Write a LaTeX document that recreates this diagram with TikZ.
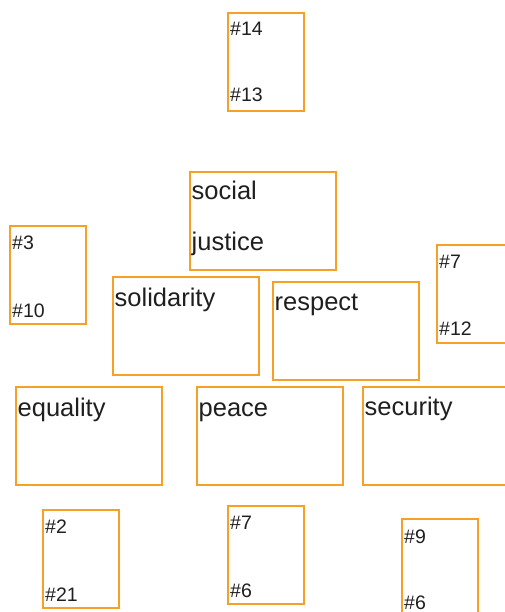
\documentclass[tikz,border=0pt]{standalone}
\usepackage{fontspec}
\setmainfont{Liberation Sans}
\definecolor{boxorange}{RGB}{247,160,38}
\begin{document}
\begin{tikzpicture}[
  x=1pt, y=1pt,
  cat/.style={
    draw=boxorange, line width=2.8pt,
    anchor=north west, inner sep=0pt, outer sep=0pt,
    minimum width=146pt, minimum height=98pt
  },
  refb/.style={cat, minimum width=76pt},
  word/.style={anchor=base west, inner sep=0pt, text=black!88,
    font=\fontsize{25.5}{30}\selectfont},
  num/.style={word, font=\fontsize{19.5}{23}\selectfont}
]
\useasboundingbox (0,0) rectangle (505,-612);
\clip (0,0) rectangle (505,-612);

% top
\node[refb] (b14) at (228,-13) {};
\node[num] (n14) at ([shift={(2,-23)}]b14.north west) {\#14};
\node[num] (n13) at ([shift={(2,-89)}]b14.north west) {\#13};

% social justice
\node[cat] (soc) at (190,-172) {};
\node[word] (t-soc) at ([shift={(1.5,-28)}]soc.north west) {social};
\node[word] (t-jus) at ([shift={(1.5,-78)}]soc.north west) {justice};

% second row
\node[refb] (b3) at (10,-226) {};
\node[num] (n3) at ([shift={(2,-23)}]b3.north west) {\#3};
\node[num] (n10) at ([shift={(2,-91)}]b3.north west) {\#10};

\node[cat] (sol) at (113,-277) {};
\node[word] (t-sol) at ([shift={(1.5,-29)}]sol.north west) {solidarity};

\node[cat] (res) at (273,-282) {};
\node[word] (t-res) at ([shift={(1.5,-28)}]res.north west) {respect};

\node[refb] (b7r) at (437,-245) {};
\node[num] (n7r) at ([shift={(2,-23)}]b7r.north west) {\#7};
\node[num] (n12) at ([shift={(2,-90)}]b7r.north west) {\#12};

% third row
\node[cat] (equ) at (16,-387) {};
\node[word] (t-equ) at ([shift={(1.5,-29)}]equ.north west) {equality};

\node[cat] (pea) at (197,-387) {};
\node[word] (t-pea) at ([shift={(1.5,-29)}]pea.north west) {peace};

\node[cat] (sec) at (363,-387) {};
\node[word] (t-sec) at ([shift={(1.5,-28)}]sec.north west) {security};

% bottom
\node[refb] (b2) at (43,-510) {};
\node[num] (n2) at ([shift={(2,-23)}]b2.north west) {\#2};
\node[num] (n21) at ([shift={(2,-91)}]b2.north west) {\#21};

\node[refb] (b7m) at (228,-506) {};
\node[num] (n7m) at ([shift={(2,-23)}]b7m.north west) {\#7};
\node[num] (n6m) at ([shift={(2,-91)}]b7m.north west) {\#6};

\node[refb] (b9) at (402,-519) {};
\node[num] (n9) at ([shift={(2,-24)}]b9.north west) {\#9};
\node[num] (n6r) at ([shift={(2,-90)}]b9.north west) {\#6};
\end{tikzpicture}
\end{document}
